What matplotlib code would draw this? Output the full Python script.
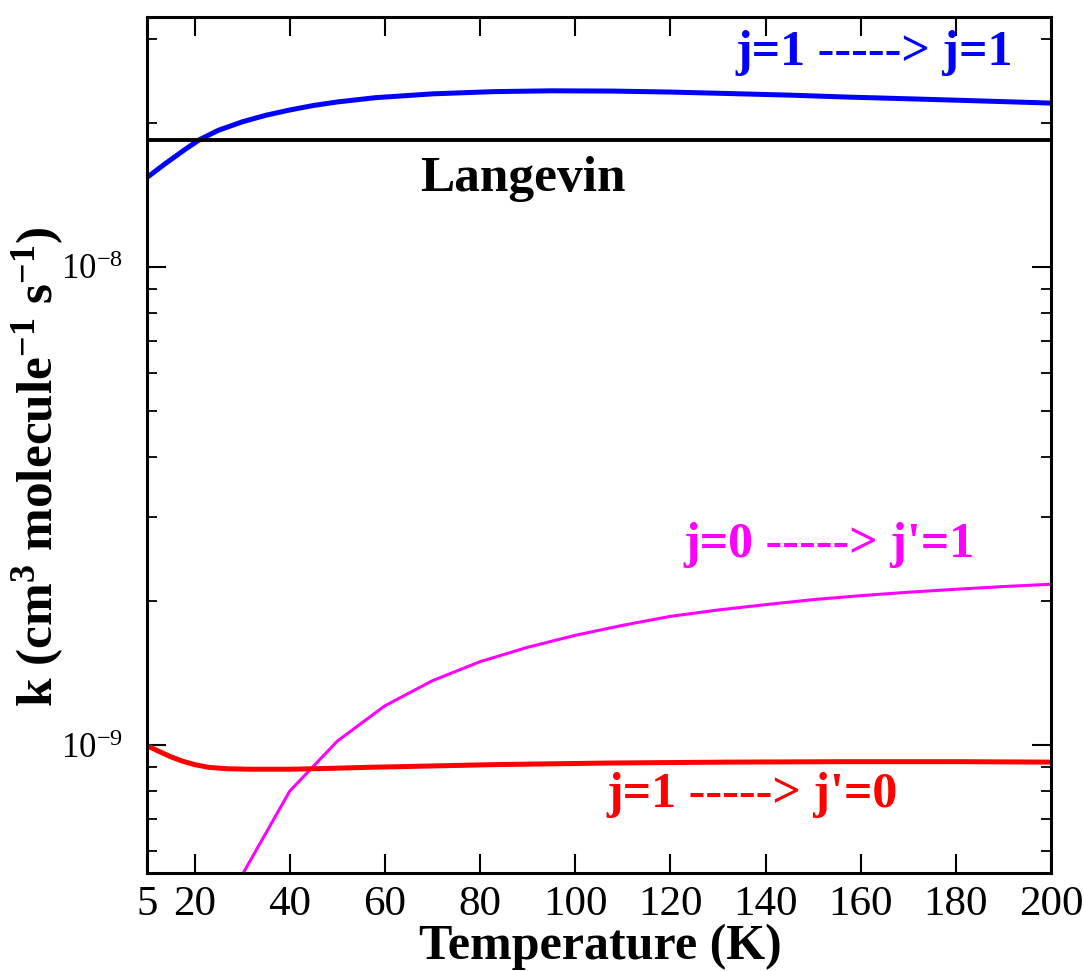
import numpy as np
import matplotlib
matplotlib.use("Agg")
import matplotlib.pyplot as plt
from matplotlib.ticker import FixedLocator, NullFormatter

# fonts: Times-like serif everywhere, bold maths for the label superscripts
plt.rcParams["font.family"] = "Liberation Serif"
plt.rcParams["mathtext.fontset"] = "custom"
plt.rcParams["mathtext.rm"] = "Liberation Serif"
plt.rcParams["mathtext.bf"] = "Liberation Serif:bold"
plt.rcParams["mathtext.it"] = "Liberation Serif:italic"
plt.rcParams["axes.unicode_minus"] = False

# data (temperature in K, rate constant in cm3/molecule/s)
# the left edge of the axis sits at T=10 but carries the label "5"
t_blue = [10, 14, 18, 21, 25, 30, 35, 40, 45, 50, 58, 70, 83, 95, 108, 120, 132, 145, 157, 170, 182, 200]
k_blue = [1.538e-8, 1.648e-8, 1.760e-8, 1.844e-8, 1.930e-8, 2.010e-8, 2.075e-8, 2.128e-8,
          2.175e-8, 2.212e-8, 2.258e-8, 2.300e-8, 2.325e-8, 2.334e-8, 2.331e-8, 2.320e-8,
          2.304e-8, 2.286e-8, 2.265e-8, 2.246e-8, 2.228e-8, 2.200e-8]

t_red = [10, 12.5, 15, 17.5, 20, 23, 27, 32, 40, 49, 56, 63, 83, 107, 132, 157, 181, 200]
k_red = [9.97e-10, 9.70e-10, 9.45e-10, 9.25e-10, 9.10e-10, 8.98e-10, 8.92e-10, 8.90e-10,
         8.90e-10, 8.94e-10, 8.98e-10, 9.01e-10, 9.10e-10, 9.17e-10, 9.21e-10, 9.23e-10,
         9.23e-10, 9.21e-10]

t_mag = [30, 40, 50, 60, 70, 80, 90, 100, 110, 120, 130, 140, 150, 160, 170, 180, 190, 200]
k_mag = [5.35e-10, 8.01e-10, 1.019e-9, 1.208e-9, 1.363e-9, 1.494e-9, 1.601e-9, 1.696e-9,
         1.780e-9, 1.858e-9, 1.916e-9, 1.966e-9, 2.014e-9, 2.053e-9, 2.087e-9, 2.117e-9,
         2.145e-9, 2.169e-9]

k_langevin = 1.844e-8

x_ticks = [10, 20, 40, 60, 80, 100, 120, 140, 160, 180, 200]
x_tick_labels = ["5", "20", "40", "60", "80", "100", "120", "140", "160", "180", "200"]

fig = plt.figure(figsize=(10.84, 9.71), dpi=100)
ax = fig.add_axes([147 / 1084, 1 - 873 / 971, 904 / 1084, 856 / 971])

# curves
ax.plot(t_blue, k_blue, color="#0000ff", lw=3.6)
ax.axhline(k_langevin, color="black", lw=2.8)
ax.plot(t_mag, k_mag, color="#ff00ff", lw=2.2)
ax.plot(t_red, k_red, color="#ff0000", lw=3.6)

ax.set_yscale("log")
ax.set_xlim(10, 200)
ax.set_ylim(5.4e-10, 3.33e-8)

# ticks
ax.set_xticks(x_ticks)
ax.set_xticklabels(x_tick_labels)
ax.yaxis.set_major_locator(FixedLocator([1e-9, 1e-8]))
minor = [m * 10.0 ** e for e in (-10, -9, -8) for m in range(2, 10)]
ax.yaxis.set_minor_locator(FixedLocator(minor))
ax.yaxis.set_minor_formatter(NullFormatter())
ax.tick_params(axis="both", which="major", direction="in", length=14, width=1.5,
               top=True, right=True)
ax.tick_params(axis="y", which="minor", direction="in", length=7.5, width=1.3,
               left=True, right=True)
ax.tick_params(axis="x", which="major", labelsize=31, pad=9)
ax.tick_params(axis="y", which="major", labelsize=25, pad=17)
for s in ax.spines.values():
    s.set_linewidth(2.2)

# labels
fig.text(600 / 1084, 1 - 959 / 971, "Temperature (K)", ha="center", va="baseline",
         fontsize=36, fontweight="bold")
fig.text(38 / 1084, 1 - 467 / 971,
         r"k (cm$^{\mathbf{3}}$ molecule$^{\mathbf{-1}}$ s$^{\mathbf{-1}}$)",
         rotation=90, ha="center", va="center", fontsize=37, fontweight="bold")

# annotations
ax.text(0.958, 0.944, "j=1 -----> j=1", transform=ax.transAxes, ha="right",
        va="baseline", fontsize=36, fontweight="bold", color="#0000ff")
ax.text(0.302, 0.797, "Langevin", transform=ax.transAxes, ha="left",
        va="baseline", fontsize=37, fontweight="bold", color="black")
ax.text(0.916, 0.369, "j=0 -----> j'=1", transform=ax.transAxes, ha="right",
        va="baseline", fontsize=36, fontweight="bold", color="#ff00ff")
ax.text(0.830, 0.077, "j=1 -----> j'=0", transform=ax.transAxes, ha="right",
        va="baseline", fontsize=36, fontweight="bold", color="#ff0000")

fig.savefig("out.png", dpi=100)
